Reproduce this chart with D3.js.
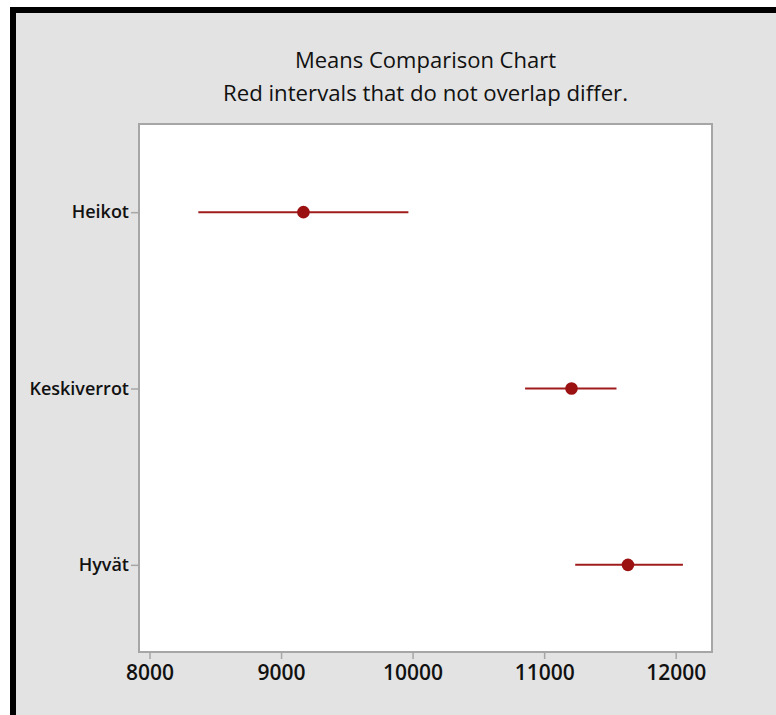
<!DOCTYPE html>
<html><head><meta charset="utf-8">
<script src="https://cdn.jsdelivr.net/npm/d3@7"></script>
<style>
html,body{margin:0;padding:0;background:#fff;}
svg{display:block;}
text{font-family:"Open Sans","Noto Sans",sans-serif;fill:#111;}
</style></head>
<body>
<svg id="chart" width="776" height="715"></svg>
<script>
const categories = ["Heikot", "Keskiverrot", "Hyvät"];
const means = [9170, 11208, 11637];
const lower = [8371, 10855, 11236];
const upper = [9968, 11550, 12055];
const xTicks = [8000, 9000, 10000, 11000, 12000];
const title = "Means Comparison Chart";
const subtitle = "Red intervals that do not overlap differ.";

const svg = d3.select("#chart");
// background + black border
svg.append("rect").attr("x", 10).attr("y", 7).attr("width", 766).attr("height", 708).attr("fill", "#000");
svg.append("rect").attr("x", 16).attr("y", 13).attr("width", 760).attr("height", 702).attr("fill", "#e3e3e3");

const L = 139, R = 712, T = 123, B = 652;
const x = d3.scaleLinear().domain([7920, 12276]).range([L, R]);
const y = d3.scalePoint().domain(categories).range([T + 1, B + 1]).padding(0.5);

svg.append("rect").attr("x", L).attr("y", T + 1).attr("width", R - L).attr("height", B - T - 1)
  .attr("fill", "#fff").attr("stroke", "#a6a6a6").attr("stroke-width", 2);

// x axis
const xa = svg.append("g").attr("transform", `translate(0,${B})`)
  .call(d3.axisBottom(x).tickValues(xTicks).tickFormat(d3.format("d")).tickSize(7).tickPadding(6));
xa.select(".domain").remove();
xa.selectAll("line").attr("stroke", "#a6a6a6").attr("stroke-width", 1.5);
xa.selectAll("text").attr("font-size", 21).attr("font-weight", 600).attr("fill", "#111")
  .attr("font-family", '"Open Sans","Noto Sans",sans-serif');

// y axis
const ya = svg.append("g").attr("transform", `translate(${L},0)`)
  .call(d3.axisLeft(y).tickSize(8).tickPadding(2));
ya.select(".domain").remove();
ya.selectAll("line").attr("stroke", "#a6a6a6").attr("stroke-width", 1.5);
ya.selectAll("text").attr("font-size", 18).attr("font-weight", 600).attr("fill", "#111")
  .attr("font-family", '"Open Sans","Noto Sans",sans-serif');

// intervals
const g = svg.append("g");
categories.forEach((c, i) => {
  g.append("line").attr("x1", x(lower[i])).attr("x2", x(upper[i]))
    .attr("y1", y(c)).attr("y2", y(c)).attr("stroke", "#a01c1c").attr("stroke-width", 2);
  g.append("circle").attr("cx", x(means[i])).attr("cy", y(c)).attr("r", 6.3).attr("fill", "#9b1111");
});

// titles
const cx = (L + R) / 2;
svg.append("text").attr("x", cx).attr("y", 68).attr("text-anchor", "middle")
  .attr("font-size", 22).attr("font-weight", 500).text(title);
svg.append("text").attr("x", cx).attr("y", 101).attr("text-anchor", "middle")
  .attr("font-size", 22.2).text(subtitle);
</script>
</body></html>
